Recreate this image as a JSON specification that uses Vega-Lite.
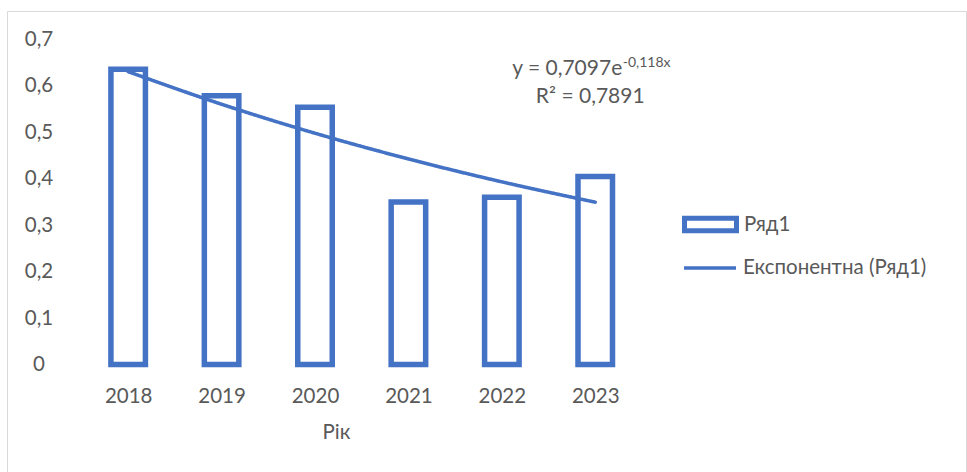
{
  "$schema": "https://vega.github.io/schema/vega-lite/v6.json",
  "autosize": {"type": "none"},
  "width": 959,
  "height": 461,
  "padding": {"left": 7, "top": 11, "right": 1, "bottom": 0},
  "background": "white",
  "config": {
    "view": {"stroke": "#d9d9d9", "strokeWidth": 1},
    "font": "Lato, Noto Sans",
    "locale": {"number": {"decimal": ",", "thousands": " ", "grouping": [3], "currency": ["", " ₴"]}},
    "axis": {
      "labelFont": "Lato, Noto Sans",
      "labelFontSize": 20.5,
      "labelColor": "#595959",
      "domain": false,
      "ticks": false,
      "tickSize": 0,
      "grid": false,
      "titleFont": "Lato, Noto Sans",
      "titleFontWeight": "normal",
      "titleFontSize": 20.5,
      "titleColor": "#595959"
    },
    "legend": {
      "labelFont": "Lato, Noto Sans",
      "labelFontSize": 20.5,
      "labelColor": "#595959",
      "labelLimit": 0,
      "title": null,
      "padding": 0,
      "orient": "none",
      "labelOffset": 19,
      "symbolSize": 576
    }
  },
  "datasets": {
    "ratio": [
      {"year": 2018, "value": 0.636},
      {"year": 2019, "value": 0.579},
      {"year": 2020, "value": 0.554},
      {"year": 2021, "value": 0.350},
      {"year": 2022, "value": 0.360},
      {"year": 2023, "value": 0.405}
    ],
    "trend": [
      {"year": 2018, "value": 0.6307},
      {"year": 2019, "value": 0.5605},
      {"year": 2020, "value": 0.4981},
      {"year": 2021, "value": 0.4427},
      {"year": 2022, "value": 0.3934},
      {"year": 2023, "value": 0.3496}
    ],
    "fitNote": [
      {"part": "base", "note": "y = 0,7097e"},
      {"part": "power", "note": "-0,118x"},
      {"part": "r2", "note": "R² = 0,7891"}
    ]
  },
  "layer": [
    {
      "data": {"name": "ratio"},
      "mark": {"type": "bar", "fill": "white", "strokeWidth": 5.5, "size": 34.5},
      "encoding": {
        "x": {
          "field": "year",
          "type": "quantitative",
          "scale": {"domain": [2016.7564, 2026.9153], "nice": false, "zero": false},
          "axis": {
            "values": [2018, 2019, 2020, 2021, 2022, 2023],
            "format": "d",
            "offset": -107.5,
            "labelPadding": 31.7,
            "labelBaseline": "middle",
            "labelFlush": false,
            "labelOverlap": false,
            "title": "Рік",
            "titleX": 329,
            "titleY": 68,
            "titleAlign": "center",
            "titleBaseline": "middle"
          }
        },
        "y": {
          "field": "value",
          "type": "quantitative",
          "scale": {"domain": [-0.23154, 0.76138], "nice": false, "zero": false},
          "axis": {
            "values": [0, 0.1, 0.2, 0.3, 0.4, 0.5, 0.6, 0.7],
            "format": ".1~f",
            "offset": -70,
            "labelPadding": 38.5,
            "labelAlign": "center",
            "labelBaseline": "middle",
            "labelFlush": false,
            "labelOverlap": false,
            "title": null
          }
        },
        "y2": {"datum": 0},
        "stroke": {
          "datum": "Ряд1",
          "type": "nominal",
          "scale": {"range": ["#4472C4"]},
          "legend": {
            "legendX": 689,
            "legendY": 199,
            "symbolType": "M-2.1667,-0.529H2.1667V0.529H-2.1667Z",
            "symbolStrokeWidth": 5,
            "symbolFillColor": "#ffffff",
            "symbolOpacity": 1
          }
        }
      }
    },
    {
      "data": {"name": "trend"},
      "mark": {"type": "line", "stroke": "#4472C4", "strokeWidth": 3.5, "interpolate": "monotone", "strokeCap": "round"},
      "encoding": {
        "x": {"field": "year", "type": "quantitative"},
        "y": {"field": "value", "type": "quantitative"},
        "strokeDash": {
          "datum": "Експонентна (Ряд1)",
          "type": "nominal",
          "scale": {"range": [[1, 0]]},
          "legend": {
            "legendX": 689,
            "legendY": 243,
            "symbolType": "M-2.1667,0H2.1667",
            "symbolStrokeWidth": 3.5,
            "symbolStrokeColor": "#4472C4",
            "symbolOpacity": 1
          }
        }
      }
    },
    {
      "data": {"name": "fitNote"},
      "transform": [{"filter": "datum.part === 'base'"}],
      "mark": {"type": "text", "fontSize": 21, "align": "right", "baseline": "middle", "dx": 27, "fill": "#595959"},
      "encoding": {
        "x": {"datum": 2023, "type": "quantitative"},
        "y": {"datum": 0.6375, "type": "quantitative"},
        "text": {"field": "note", "type": "nominal"}
      }
    },
    {
      "data": {"name": "fitNote"},
      "transform": [{"filter": "datum.part === 'power'"}],
      "mark": {"type": "text", "fontSize": 14, "align": "left", "baseline": "middle", "dx": 27.5, "dy": -5.2, "fill": "#595959"},
      "encoding": {
        "x": {"datum": 2023, "type": "quantitative"},
        "y": {"datum": 0.6375, "type": "quantitative"},
        "text": {"field": "note", "type": "nominal"}
      }
    },
    {
      "data": {"name": "fitNote"},
      "transform": [{"filter": "datum.part === 'r2'"}],
      "mark": {"type": "text", "fontSize": 21, "align": "center", "baseline": "middle", "dx": -5, "fill": "#595959"},
      "encoding": {
        "x": {"datum": 2023, "type": "quantitative"},
        "y": {"datum": 0.5755, "type": "quantitative"},
        "text": {"field": "note", "type": "nominal"}
      }
    }
  ]
}
